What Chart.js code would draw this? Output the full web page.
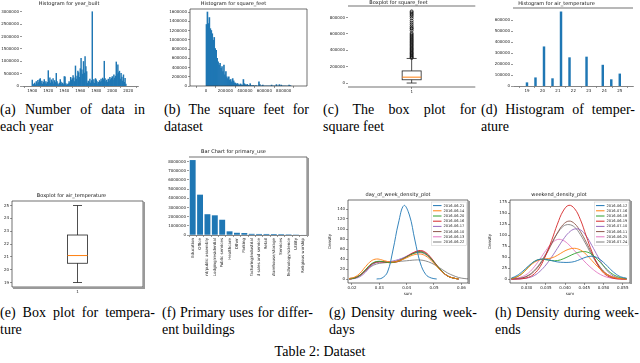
<!DOCTYPE html>
<html>
<head>
<meta charset="utf-8">
<script src="https://cdn.jsdelivr.net/npm/chart.js@4.4.0/dist/chart.umd.min.js"></script>
<style>
body { margin:0; width:640px; height:363px; background:#fff; position:relative; overflow:hidden; font-family:"Liberation Serif", "Times New Roman", serif; }
canvas { position:absolute; }
.cap { position:absolute; font-size:14px; line-height:17px; color:#000; }
.cap .l1 { text-align:justify; text-align-last:justify; }
#table { position:absolute; left:0; width:640px; top:343px; text-align:center; font-size:14px; line-height:17px; }
</style>
</head>
<body>
<canvas id="ca" width="145" height="95" style="left:0;top:0"></canvas>
<canvas id="cb" width="152" height="95" style="left:160px;top:0"></canvas>
<canvas id="cc" width="160" height="95" style="left:320px;top:0"></canvas>
<canvas id="cd" width="160" height="95" style="left:480px;top:0"></canvas>
<canvas id="ce" width="150" height="104" style="left:0;top:192px"></canvas>
<canvas id="cf" width="152" height="128" style="left:160px;top:148px"></canvas>
<canvas id="cg" width="145" height="104" style="left:328px;top:192px"></canvas>
<canvas id="ch" width="150" height="104" style="left:488px;top:192px"></canvas>

<div class="cap" style="left:0;top:101px;width:145px"><div class="l1">(a) Number of data in</div><div>each year</div></div>
<div class="cap" style="left:164px;top:101px;width:145px"><div class="l1">(b) The square feet for</div><div>dataset</div></div>
<div class="cap" style="left:323px;top:101px;width:153px"><div class="l1">(c) The box plot for</div><div>square feet</div></div>
<div class="cap" style="left:481px;top:101px;width:154px"><div class="l1">(d) Histogram of temper-</div><div>ature</div></div>
<div class="cap" style="left:0;top:304px;width:155px"><div class="l1">(e) Box plot for tempera-</div><div>ture</div></div>
<div class="cap" style="left:162px;top:304px;width:151px"><div class="l1">(f) Primary uses for differ-</div><div>ent buildings</div></div>
<div class="cap" style="left:329px;top:304px;width:148px"><div class="l1">(g) Density during week-</div><div>days</div></div>
<div class="cap" style="left:495px;top:304px;width:144px"><div class="l1">(h) Density during week-</div><div>ends</div></div>
<div id="table">Table 2: Dataset</div>

<script>
// (a) year_built histogram, counts in thousands, one bar per year from 1900
const firstYear = 1900;
const yearCountsK = [
  240, 80, 60, 120, 50, 180, 90, 230, 140, 260,
  300, 120, 200, 80, 160, 260, 100, 180, 90, 150,
  620, 200, 330, 120, 250, 170, 300, 90, 220, 140,
  510, 180, 90, 50, 120, 260, 160, 80, 120, 60,
  380, 370, 100, 40, 60, 90, 180, 120, 350, 240,
  300, 420, 330, 180, 810, 280, 400, 600, 540, 350,
  700, 1120, 650, 480, 990, 520, 1190, 780, 580, 120,
  200, 160, 280, 120, 220, 3000, 140, 260, 110, 300,
  250, 180, 90, 150, 220, 170, 280, 200, 320, 260,
  1000, 300, 180, 240, 150, 280, 200, 350, 260, 320,
  380, 240, 450, 320, 400, 970, 480, 850, 540, 600,
  280, 510, 360, 200, 450, 150, 310, 80
];
const yearTicks = [1900, 1920, 1940, 1960, 1980, 2000, 2020];
const yearYTicksK = [0, 500, 1000, 1500, 2000, 2500, 3000];

// (b) square_feet histogram, 10000 sq ft bins, counts in thousands
const sqftBinWidth = 10000;
const sqftCountsK = [
  1330, 1600, 1350, 1480, 1240, 1200, 1130, 990, 1050, 810,
  770, 600, 520, 450, 490, 380, 420, 310, 450, 240,
  310, 200, 160, 200, 130, 140, 90, 160, 110, 70,
  60, 40, 55, 30, 20, 45, 25, 20, 140, 50,
  30, 20, 35, 15, 10, 50, 10, 5, 15, 0,
  5, 10, 0, 0, 90, 30, 0, 5, 20, 0,
  0, 0, 0, 0, 0, 0, 0, 20, 0, 0,
  0, 0, 30, 0, 0, 30, 0, 20, 0, 0,
  0, 0, 0, 0, 0, 20, 10, 0
];
const sqftTicks = [0, 200000, 400000, 600000, 800000];
const sqftYTicksK = [0, 200, 400, 600, 800, 1000, 1200, 1400, 1600];

// (c) square_feet box plot (thousands)
const sqftBox = { low: 0.3, q1: 40, med: 72, q3: 148, high: 300 };
const sqftOutliersK = [
  305, 315, 326, 338, 350, 362, 371, 385, 398, 410, 421, 433, 447, 460, 472,
  486, 499, 512, 526, 539, 553, 566, 580, 594, 608, 640, 661, 672, 690, 712,
  735, 760, 790, 812, 830, 845, 861, 875
];
const sqftBoxTicksK = [0, 200, 400, 600, 800];

// (d) air_temperature histogram
const tempValues = [19.0, 19.55, 20.1, 20.65, 21.2, 21.75, 22.85, 23.9, 24.45, 25.0];
const tempCounts = [30000, 75000, 357000, 67000, 675000, 258000, 264000, 190000, 58000, 110000];
const tempTicks = [19, 20, 21, 22, 23, 24, 25];
const tempYTicks = [0, 100000, 200000, 300000, 400000, 500000, 600000];

// (e) air_temperature box plot
const tempBox = { low: 19.0, q1: 20.5, med: 21.1, q3: 22.7, high: 25.0 };
const tempBoxTicks = [19, 20, 21, 22, 23, 24, 25];

// (f) primary_use counts
const uses = ['Education', 'Office', 'Entertainment/public assembly', 'Lodging/residential',
  'Public services', 'Healthcare', 'Other', 'Parking', 'Manufacturing/industrial',
  'Food sales and service', 'Retail', 'Warehouse/storage', 'Services',
  'Technology/science', 'Utility', 'Religious worship'];
const useCountsK = [8166, 4395, 2265, 2146, 1663, 399, 242, 214, 126, 114, 113, 112, 97, 78, 56, 32];
const useYTicksK = [0, 1000, 2000, 3000, 4000, 5000, 6000, 7000, 8000];

// (g) weekday density curves
const weekdayX = [0.019, 0.021, 0.023, 0.025, 0.027, 0.029, 0.031, 0.033, 0.035, 0.037, 0.039, 0.041,
  0.043, 0.045, 0.047, 0.049, 0.051, 0.053, 0.055, 0.057, 0.059, 0.061, 0.063];
const weekdayLabels = ['2016-06-21', '2016-06-14', '2016-06-20', '2016-06-16', '2016-06-17', '2016-06-10', '2016-06-13', '2016-06-22'];
const weekdayCurves = [
  [null, null, null, null, null, 0, 2, 14, 58, 112, 147, 128, 78, 32, 9, 2, 0, null, null, null, null, null, null],
  [1, 4, 12, 25, 36, 40, 38, 35, 34, 36, 40, 45, 49, 50, 46, 37, 25, 14, 6, 2, 0, null, null],
  [0, 2, 8, 19, 30, 35, 35, 33, 33, 36, 41, 47, 52, 54, 50, 40, 27, 15, 6, 2, 0, null, null],
  [0, 2, 8, 18, 29, 34, 34, 33, 33, 35, 41, 48, 54, 57, 53, 42, 28, 15, 6, 2, 0, null, null],
  [0, 1, 5, 14, 26, 33, 34, 34, 36, 39, 43, 48, 52, 53, 49, 39, 26, 14, 6, 2, 0, null, null],
  [0, 2, 7, 17, 28, 34, 35, 34, 34, 37, 42, 48, 53, 55, 51, 40, 27, 15, 6, 2, 0, null, null],
  [0, 2, 8, 18, 29, 34, 34, 33, 34, 37, 42, 49, 54, 56, 52, 41, 27, 15, 6, 2, 0, null, null],
  [1, 3, 8, 16, 25, 30, 32, 33, 34, 35, 36, 37, 38, 38, 36, 32, 26, 19, 12, 7, 3, 1, 0]
];
const weekdayXTicks = [0.02, 0.03, 0.04, 0.05, 0.06];
const weekdayYTicks = [0, 20, 40, 60, 80, 100, 120, 140];

// (h) weekend density curves
const weekendX = [0.026, 0.0275, 0.029, 0.0305, 0.032, 0.0335, 0.035, 0.0365, 0.038, 0.0395, 0.041,
  0.0425, 0.044, 0.0455, 0.047, 0.0485, 0.050, 0.0515, 0.053, 0.0545, 0.056];
const weekendLabels = ['2016-06-12', '2016-07-16', '2016-06-18', '2016-06-19', '2016-07-10', '2016-06-11', '2016-06-25', '2016-07-24'];
const weekendCurves = [
  [2, 8, 18, 30, 40, 45, 45, 42, 39, 38, 38, 40, 45, 50, 52, 48, 38, 25, 13, 5, 2],
  [1, 5, 14, 27, 38, 44, 46, 48, 54, 62, 68, 70, 66, 56, 42, 28, 16, 8, 3, 1, 0],
  [1, 5, 14, 28, 40, 45, 44, 42, 42, 46, 52, 58, 62, 62, 56, 44, 30, 17, 8, 3, 1],
  [0, 0, 1, 4, 12, 28, 55, 88, 125, 155, 168, 160, 135, 98, 62, 32, 14, 5, 1, 0, 0],
  [0, 0, 1, 3, 8, 18, 32, 50, 70, 90, 106, 114, 112, 98, 76, 52, 30, 14, 5, 1, 0],
  [0, 1, 3, 8, 18, 34, 55, 80, 105, 124, 132, 126, 108, 84, 58, 35, 18, 8, 3, 1, 0],
  [0, 2, 6, 14, 28, 46, 65, 81, 90, 88, 78, 64, 50, 36, 24, 14, 7, 3, 1, 0, 0],
  [0, 1, 3, 9, 20, 36, 58, 82, 104, 120, 124, 118, 101, 78, 54, 33, 17, 7, 2, 1, 0]
];
const weekendXTicks = [0.030, 0.035, 0.040, 0.045, 0.050, 0.055];
const weekendYTicks = [0, 25, 50, 75, 100, 125, 150, 175];

const blue = '#1f77b4';
const kdeColors = ['#1f77b4', '#ff7f0e', '#2ca02c', '#d62728', '#9467bd', '#8c564b', '#e377c2', '#7f7f7f'];

Chart.defaults.font.family = '"DejaVu Sans", sans-serif';
Chart.defaults.color = '#222';
Chart.defaults.animation = false;
Chart.defaults.responsive = false;
Chart.defaults.plugins.legend.display = false;
Chart.defaults.plugins.tooltip.enabled = false;

// frame around plot area, with the grey shadow on some panels
const framePlugin = {
  id: 'frame',
  afterDraw(chart, args, opts) {
    if (!opts.sides) return;
    const a = chart.chartArea, c = chart.ctx;
    c.save();
    c.strokeStyle = '#333';
    c.lineWidth = 0.7;
    c.beginPath();
    if (opts.sides.includes('t')) { c.moveTo(a.left, a.top); c.lineTo(a.right, a.top); }
    if (opts.sides.includes('b')) { c.moveTo(a.left, a.bottom); c.lineTo(a.right, a.bottom); }
    if (opts.sides.includes('l')) { c.moveTo(a.left, a.top); c.lineTo(a.left, a.bottom); }
    if (opts.sides.includes('r')) { c.moveTo(a.right, a.top); c.lineTo(a.right, a.bottom); }
    c.stroke();
    if (opts.shadow) {
      c.strokeStyle = '#999';
      c.lineWidth = 2;
      c.beginPath();
      c.moveTo(a.right + 1, a.top + 1);
      c.lineTo(a.right + 1, a.bottom + 1);
      if (opts.shadow === 'rb') c.lineTo(a.left + 1, a.bottom + 1);
      c.stroke();
    }
    c.restore();
  }
};

// box + whiskers + median, positioned through the chart scales
const boxPlugin = {
  id: 'boxplot',
  afterDatasetsDraw(chart, args, opts) {
    if (!opts.stats) return;
    const s = opts.stats, c = chart.ctx, y = chart.scales.y;
    const x = chart.scales.x.getPixelForValue(0);
    const hw = opts.halfWidth, cw = opts.capWidth;
    const py = v => y.getPixelForValue(v);
    c.save();
    c.strokeStyle = '#222';
    c.lineWidth = 0.8;
    c.strokeRect(x - hw, py(s.q3), hw * 2, py(s.q1) - py(s.q3));
    c.beginPath();
    c.moveTo(x, py(s.q3)); c.lineTo(x, py(s.high));
    c.moveTo(x - cw, py(s.high)); c.lineTo(x + cw, py(s.high));
    c.moveTo(x, py(s.q1)); c.lineTo(x, py(s.low));
    c.moveTo(x - cw, py(s.low)); c.lineTo(x + cw, py(s.low));
    c.stroke();
    c.strokeStyle = '#ff7f0e';
    c.lineWidth = 1;
    c.beginPath();
    c.moveTo(x - hw, py(s.med)); c.lineTo(x + hw, py(s.med));
    c.stroke();
    c.restore();
  }
};

// matplotlib-like legend box in the upper right of the plot
const kdeLegend = {
  id: 'kdeLegend',
  afterDraw(chart, args, opts) {
    if (!opts.width) return;
    const c = chart.ctx, a = chart.chartArea;
    const sets = chart.data.datasets;
    const x0 = a.right - opts.width - 1.5, y0 = a.top + 2;
    const h = opts.rowH * sets.length + 2;
    c.save();
    c.fillStyle = 'rgba(255,255,255,0.85)';
    c.fillRect(x0, y0, opts.width, h);
    c.strokeStyle = '#ccc';
    c.lineWidth = 0.5;
    c.strokeRect(x0, y0, opts.width, h);
    c.font = '3.6px "DejaVu Sans"';
    c.textBaseline = 'middle';
    sets.forEach((d, i) => {
      const ly = y0 + 1 + opts.rowH * (i + 0.5);
      c.strokeStyle = d.borderColor;
      c.lineWidth = 1;
      c.beginPath();
      c.moveTo(x0 + 1.5, ly); c.lineTo(x0 + 10, ly);
      c.stroke();
      c.fillStyle = '#222';
      c.fillText(d.label, x0 + 12, ly);
    });
    c.restore();
  }
};

Chart.register(framePlugin, boxPlugin, kdeLegend);

function fixedTicks(list) { return s => { s.ticks = list.map(v => ({ value: v })); }; }
function fitW(w) { return s => { s.width = w; }; }
function fitH(h) { return s => { s.height = h; }; }
function tickOpts(fmt) {
  const t = { font: { size: 4 }, padding: 1, color: '#222', autoSkip: false, maxRotation: 0, minRotation: 0 };
  if (fmt) t.callback = fmt;
  return t;
}
const gridOpts = { drawOnChartArea: false, tickLength: 2, color: '#333', lineWidth: 0.5 };
function titleOpts(text, top, bottom) {
  return { display: true, text: text, font: { size: 5, weight: 'normal' }, color: '#111', padding: { top: top, bottom: bottom } };
}
const asK = v => String(v * 1000);
const plain = v => String(v);

// (a)
new Chart(document.getElementById('ca'), {
  type: 'bar',
  data: {
    datasets: [{
      data: yearCountsK.map((c, i) => ({ x: firstYear + i, y: c })),
      backgroundColor: blue, borderWidth: 0, barPercentage: 1, categoryPercentage: 1
    }]
  },
  options: {
    layout: { padding: { right: 7 } },
    plugins: { title: titleOpts('Histogram for year_built', 1, 2) },
    scales: {
      x: { type: 'linear', min: 1897.5, max: 2021.8, afterBuildTicks: fixedTicks(yearTicks), afterFit: fitH(9),
           grid: gridOpts, border: { display: true, color: '#333', width: 0.6 }, ticks: tickOpts(plain) },
      y: { min: 0, max: 3110, afterBuildTicks: fixedTicks(yearYTicksK), afterFit: fitW(22),
           grid: gridOpts, border: { display: false }, ticks: tickOpts(asK) }
    }
  }
});

// (b)
new Chart(document.getElementById('cb'), {
  type: 'bar',
  data: {
    datasets: [{
      data: sqftCountsK.map((c, i) => ({ x: i * sqftBinWidth + sqftBinWidth / 2, y: c })),
      backgroundColor: blue, borderWidth: 0, barPercentage: 1, categoryPercentage: 1
    }]
  },
  options: {
    layout: { padding: { right: 5 } },
    plugins: { title: titleOpts('Histogram for square_feet', 1, 2), frame: { sides: 'tblr' } },
    scales: {
      x: { type: 'linear', min: -44000, max: 919000, afterBuildTicks: fixedTicks(sqftTicks), afterFit: fitH(9),
           grid: gridOpts, border: { display: false }, ticks: tickOpts(plain) },
      y: { min: 0, max: 1665, afterBuildTicks: fixedTicks(sqftYTicksK), afterFit: fitW(30),
           grid: gridOpts, border: { display: false }, ticks: tickOpts(asK) }
    }
  }
});

// (c)
new Chart(document.getElementById('cc'), {
  type: 'line',
  data: {
    labels: ['1'],
    datasets: [{
      data: sqftOutliersK.map(v => ({ x: '1', y: v })),
      showLine: false, pointRadius: 1.5, pointBorderWidth: 0.7,
      pointBorderColor: '#000', pointBackgroundColor: 'rgba(0,0,0,0)'
    }]
  },
  options: {
    layout: { padding: { right: 3 } },
    plugins: {
      title: titleOpts('Boxplot for square_feet', 0, 0),
      frame: { sides: 'tb' },
      boxplot: { stats: sqftBox, halfWidth: 9.5, capWidth: 5 }
    },
    scales: {
      x: { offset: true, afterFit: fitH(8), grid: gridOpts, border: { display: false }, ticks: tickOpts() },
      y: { min: -48, max: 940, afterBuildTicks: fixedTicks(sqftBoxTicksK), afterFit: fitW(28),
           grid: gridOpts, border: { display: false }, ticks: tickOpts(asK) }
    }
  }
});

// (d)
new Chart(document.getElementById('cd'), {
  type: 'bar',
  data: {
    datasets: [{
      data: tempValues.map((t, i) => ({ x: t, y: tempCounts[i] })),
      backgroundColor: blue, borderWidth: 0, barThickness: 1.8
    }]
  },
  options: {
    layout: { padding: { right: 7 } },
    plugins: { title: titleOpts('Histogram for air_temperature', 1, 1), frame: { sides: 't' } },
    scales: {
      x: { type: 'linear', min: 18.65, max: 25.3, afterBuildTicks: fixedTicks(tempTicks), afterFit: fitH(9),
           grid: gridOpts, border: { display: true, color: '#333', width: 0.6 }, ticks: tickOpts(plain) },
      y: { min: 0, max: 710000, afterBuildTicks: fixedTicks(tempYTicks), afterFit: fitW(33),
           grid: gridOpts, border: { display: false }, ticks: tickOpts(plain) }
    }
  }
});

// (e)
new Chart(document.getElementById('ce'), {
  type: 'line',
  data: { labels: ['1'], datasets: [{ data: [] }] },
  options: {
    layout: { padding: { right: 7 } },
    plugins: {
      title: titleOpts('Boxplot for air_temperature', 1, 2),
      frame: { sides: 'tblr', shadow: 'rb' },
      boxplot: { stats: tempBox, halfWidth: 10, capWidth: 4.5 }
    },
    scales: {
      x: { offset: true, afterFit: fitH(9), grid: gridOpts, border: { display: false }, ticks: tickOpts() },
      y: { min: 18.65, max: 25.35, afterBuildTicks: fixedTicks(tempBoxTicks), afterFit: fitW(12),
           grid: gridOpts, border: { display: false }, ticks: tickOpts(plain) }
    }
  }
});

// (f)
new Chart(document.getElementById('cf'), {
  type: 'bar',
  data: {
    labels: uses,
    datasets: [{ data: useCountsK, backgroundColor: blue, borderWidth: 0, barPercentage: 0.8, categoryPercentage: 1 }]
  },
  options: {
    layout: { padding: { right: 5 } },
    plugins: { title: titleOpts('Bar Chart for primary_use', 1, 2), frame: { sides: 'tr', shadow: 'r' } },
    scales: {
      x: { afterFit: fitH(41), grid: gridOpts, border: { display: true, color: '#333', width: 0.6 },
           ticks: { font: { size: 4 }, padding: 1, color: '#222', autoSkip: false, minRotation: 90, maxRotation: 90 } },
      y: { min: 0, max: 8500, afterBuildTicks: fixedTicks(useYTicksK), afterFit: fitW(29),
           grid: gridOpts, border: { display: false }, ticks: tickOpts(asK) }
    }
  }
});

function kdeChart(id, title, xs, curves, labels, xTicks, yTicks, xr, yr, padRight, yW, legendW, digits) {
  return new Chart(document.getElementById(id), {
    type: 'line',
    data: {
      datasets: curves.map((cv, k) => ({
        label: labels[k],
        data: cv.map((v, i) => ({ x: xs[i], y: v })),
        borderColor: kdeColors[k], borderWidth: 0.9, pointRadius: 0, tension: 0.4, fill: false
      }))
    },
    options: {
      layout: { padding: { right: padRight } },
      plugins: {
        title: titleOpts(title, 0, 2),
        frame: { sides: 'tblr', shadow: 'r' },
        kdeLegend: { width: legendW, rowH: 5.2 }
      },
      scales: {
        x: { type: 'linear', min: xr[0], max: xr[1], afterBuildTicks: fixedTicks(xTicks), afterFit: fitH(13),
             grid: gridOpts, border: { display: false }, ticks: tickOpts(v => v.toFixed(digits)),
             title: { display: true, text: 'sum', font: { size: 4 }, padding: 0, color: '#222' } },
        y: { min: yr[0], max: yr[1], afterBuildTicks: fixedTicks(yTicks), afterFit: fitW(yW),
             grid: gridOpts, border: { display: false }, ticks: tickOpts(plain),
             title: { display: true, text: 'Density', font: { size: 4 }, padding: 0, color: '#222' } }
      }
    }
  });
}

// (g)
kdeChart('cg', 'day_of_week_density_plot', weekdayX, weekdayCurves, weekdayLabels,
  weekdayXTicks, weekdayYTicks, [0.01854, 0.06244], [-8, 158], 5, 20, 35, 2);

// (h)
kdeChart('ch', 'weekend_density_plot', weekendX, weekendCurves, weekendLabels,
  weekendXTicks, weekendYTicks, [0.02566, 0.0569], [-9, 180], 8, 22, 34, 3);
</script>
</body>
</html>
